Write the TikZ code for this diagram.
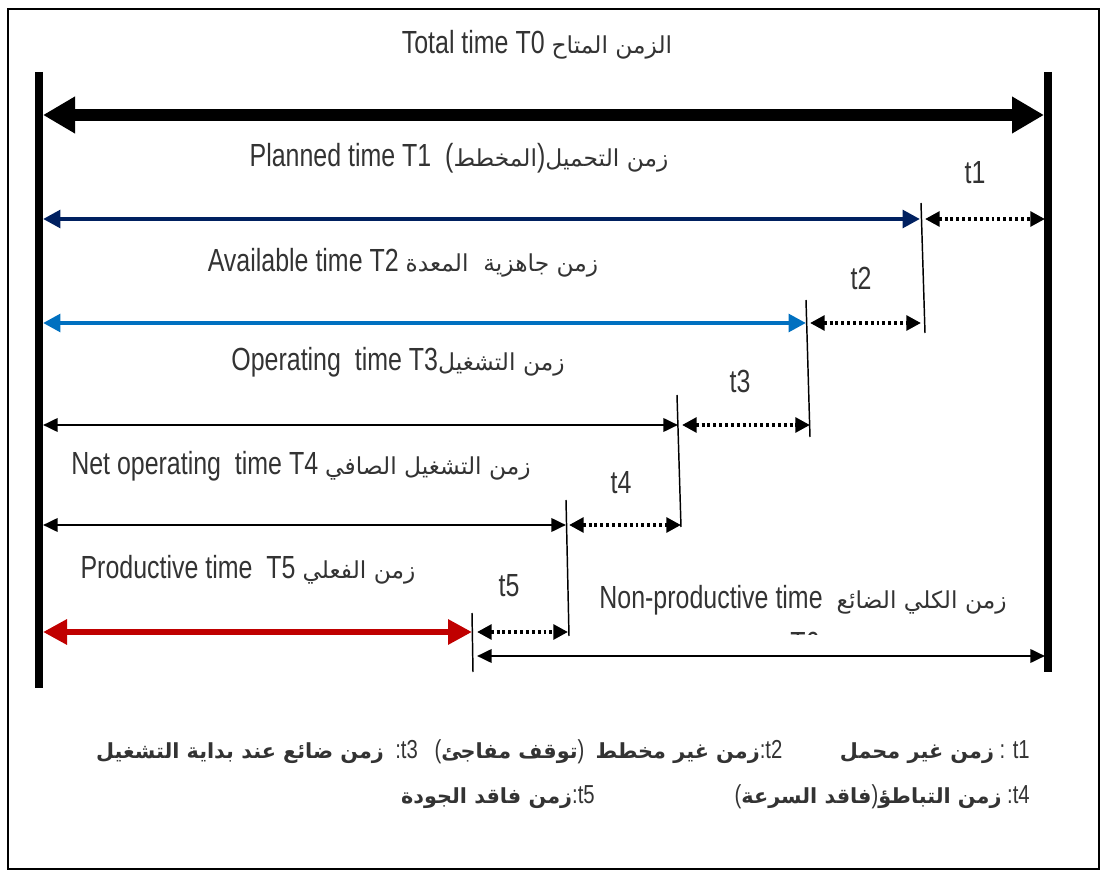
\documentclass[tikz,border=0pt]{standalone}
\usepackage{fontspec}
\setmainfont{Liberation Sans}[FakeStretch=0.78]
\newfontfamily\arabicfont[Script=Arabic,Scale=0.73]{DejaVu Sans}
\newfontfamily\arabickey[Script=Arabic,Scale=0.8]{DejaVu Sans}
\TeXXeTstate=1
\usetikzlibrary{arrows.meta}
% Arabic runs, set right to left
\newcommand\arw[1]{{\arabicfont\beginR #1\endR}}
\newcommand\arwb[1]{{\arabickey\bfseries\beginR #1\endR}}
\definecolor{navyline}{HTML}{002060}
\definecolor{blueline}{HTML}{0070C0}
\definecolor{redline}{HTML}{C00000}
\definecolor{textgray}{HTML}{333333}
\tikzset{
  lbl/.style={font=\fontsize{24}{28}\selectfont, text=textgray, inner sep=0pt},
  legend/.style={font=\fontsize{19.5}{24}\selectfont, text=textgray, inner sep=0pt, anchor=east},
  bar/.style={line width=6pt},
  endline/.style={line width=1.1pt},
  totalarrow/.style={line width=9.5pt, {Triangle[length=24pt,width=26pt]}-{Triangle[length=24pt,width=26pt]}},
  spanarrow/.style={line width=2pt, {Triangle[length=11pt,width=10pt]}-{Triangle[length=11pt,width=10pt]}},
  gaparrow/.style={line width=3pt, dash pattern=on 2.2pt off 2.2pt, {Triangle[length=11pt,width=11pt]}-{Triangle[length=11pt,width=11pt]}},
}
\begin{document}
\begin{tikzpicture}[x=0.75pt,y=-0.75pt]
\useasboundingbox (0,0) rectangle (1104,873);
% outer frame
\draw[line width=1.1pt] (8,9) rectangle (1099,869);

% start and end bars
\coordinate (L0) at (39,72);   \coordinate (L1) at (39,688);
\coordinate (R0) at (1048,72); \coordinate (R1) at (1048,672);
\draw[bar] (L0) -- (L1);
\draw[bar] (R0) -- (R1);

% end marks of each time span
\coordinate (e1t) at (921,203); \coordinate (e1b) at (925,333);
\coordinate (e2t) at (806,300); \coordinate (e2b) at (810,437);
\coordinate (e3t) at (677,395); \coordinate (e3b) at (681,527);
\coordinate (e4t) at (566,500); \coordinate (e4b) at (569,636);
\coordinate (e5t) at (472,613); \coordinate (e5b) at (473,672);
\foreach \n in {1,...,5} {\draw[endline] (e\n t) -- (e\n b);}

% arrow end points
\coordinate (a0l) at (43,115);  \coordinate (a0r) at (1044,115);
\coordinate (a1l) at (43,219);  \coordinate (a1r) at (920,219);
\coordinate (a2l) at (43,323);  \coordinate (a2r) at (806,323);
\coordinate (a3l) at (43,425);  \coordinate (a3r) at (678,425);
\coordinate (a4l) at (43,525);  \coordinate (a4r) at (566,525);
\coordinate (a5l) at (43,632);  \coordinate (a5r) at (472,632);
\coordinate (g1l) at (925,219); \coordinate (g1r) at (1045,219);
\coordinate (g2l) at (810,323); \coordinate (g2r) at (921,323);
\coordinate (g3l) at (682,425); \coordinate (g3r) at (810,425);
\coordinate (g4l) at (569,525); \coordinate (g4r) at (681,525);
\coordinate (g5l) at (477,632); \coordinate (g5r) at (568,632);
\coordinate (npl) at (477,656); \coordinate (npr) at (1045,656);

% time spans
\draw[totalarrow] (a0l) -- (a0r);
\draw[spanarrow, line width=3.5pt, navyline, {Triangle[length=13pt,width=13pt]}-{Triangle[length=13pt,width=13pt]}] (a1l) -- (a1r);
\draw[spanarrow, line width=3.5pt, blueline, {Triangle[length=13pt,width=13pt]}-{Triangle[length=13pt,width=13pt]}] (a2l) -- (a2r);
\draw[spanarrow] (a3l) -- (a3r);
\draw[spanarrow] (a4l) -- (a4r);
\draw[spanarrow, line width=5pt, redline, {Triangle[length=18pt,width=18pt]}-{Triangle[length=18pt,width=18pt]}] (a5l) -- (a5r);

% losses between spans
\foreach \n in {1,...,5} {\draw[gaparrow] (g\n l) -- (g\n r);}
\draw[spanarrow] (npl) -- (npr);

% span labels
\node[lbl] (tT0) at (537,45) {Total time T0 \arw{الزمن المتاح}};
\node[lbl] (tT1) at (459,158) {Planned time T1\ \ (\arw{المخطط})\arw{زمن التحميل}};
\node[lbl] (tT2) at (403,263) {Available time T2 \arw{زمن جاهزية\ \ المعدة}};
\node[lbl] (tT3) at (398,362) {Operating\ \ time T3\arw{زمن التشغيل}};
\node[lbl] (tT4) at (301,466) {Net operating\ \ time T4 \arw{زمن التشغيل الصافي}};
\node[lbl] (tT5) at (248,570) {Productive time\ \ T5 \arw{زمن الفعلي}};
\node[lbl] (tNP) at (803,600) {Non-productive time\ \ \arw{زمن الكلي الضائع}};
\begin{scope}
  \clip (780,626) rectangle (840,634);
  \node[lbl] (tT6) at (805,643) {T6};
\end{scope}

% loss labels
\node[lbl] (t1) at (975,173) {t1};
\node[lbl] (t2) at (861,278) {t2};
\node[lbl] (t3) at (740,381) {t3};
\node[lbl] (t4) at (621,483) {t4};
\node[lbl] (t5) at (509,586) {t5};

% key
\node[legend] (key1) at (1030,752) {\arwb{زمن ضائع عند بداية التشغيل}\ \ :t3\ \ \ (\arwb{توقف مفاجئ})\ \ \arwb{زمن\ غير مخطط}:t2\qquad\ \arwb{زمن غير محمل} : t1};
\node[legend] (key2) at (1030,797) {\arwb{زمن فاقد الجودة}:t5\hspace{105pt}(\arwb{فاقد السرعة})\arwb{زمن التباطؤ} :t4};
\end{tikzpicture}
\end{document}
